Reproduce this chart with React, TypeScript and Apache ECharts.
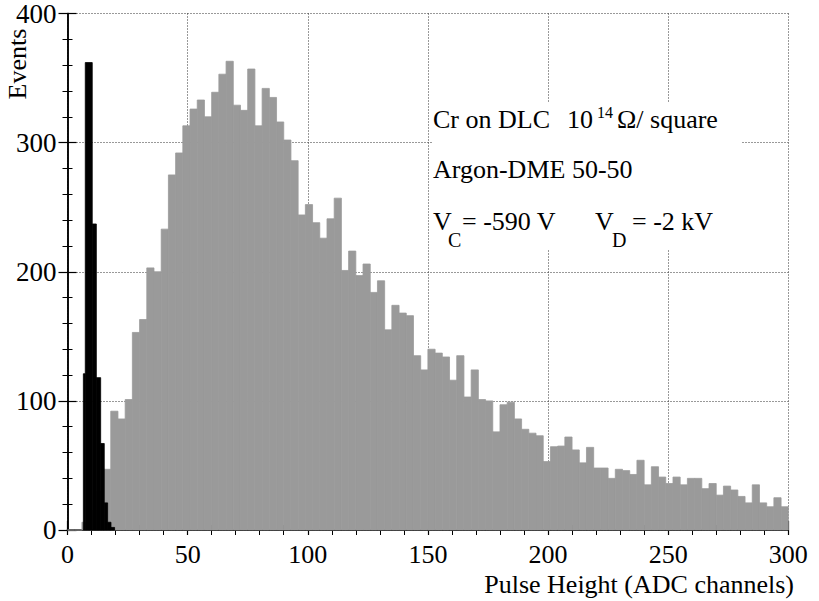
import React, { useEffect, useRef } from "react";
import * as echarts from "echarts";

// Gray histogram: 3-channel bins starting at 0 (100 bins, 0..300)
const GRAY_BIN_WIDTH = 3;
const grayCounts = [
  0, 0, 6, 15, 30, 47, 92, 86, 101,
  153, 163, 203, 200, 233, 275, 292, 313, 326, 333, 320, 339, 353, 363, 329, 325, 357, 313,
  342, 335, 316, 302, 286, 244, 252, 238, 226, 241, 257,
  201, 216, 197, 206, 184, 193,
  155, 174, 168, 166, 135, 124, 140, 137, 134, 116, 135, 103, 124,
  101, 100, 76, 97, 99, 86, 78, 75, 73, 53, 64.5, 65, 72, 62, 52, 64, 48,
  48, 40, 47, 46, 43, 54, 35, 49, 41, 36, 41, 35, 40, 40, 32, 36, 27, 34, 31, 26, 21, 35, 21, 18, 25, 18,
];

// Black histogram (pedestal / noise peak): bin edges and counts
const blackEdges = [6.6, 7.4, 10.3, 12.0, 13.8, 15.3, 16.7, 18.1, 19.6];
const blackCounts = [121, 362, 237, 118, 67, 21, 6, 2];

const xTicks = [0, 50, 100, 150, 200, 250, 300];
const yTicks = [0, 100, 200, 300, 400];

const FONT = '"Liberation Serif", "Times New Roman", serif';

export default function App() {
  const ref = useRef<HTMLDivElement>(null);
  useEffect(() => {
    if (!ref.current) return;
    const chart = echarts.init(ref.current, undefined, { renderer: "svg" });

    const grayData = grayCounts.map((v, i) => [i * GRAY_BIN_WIDTH, (i + 1) * GRAY_BIN_WIDTH, v]);
    const blackData = blackCounts.map((v, i) => [blackEdges[i], blackEdges[i + 1], v]);

    const rectItem = (fill: string) => (params: any, api: any) => {
      const p0 = api.coord([api.value(0), api.value(2)]);
      const p1 = api.coord([api.value(1), 0]);
      return {
        type: "rect",
        shape: { x: p0[0], y: p0[1], width: p1[0] - p0[0], height: p1[1] - p0[1] },
        style: { fill, stroke: fill, lineWidth: 0.8 },
      };
    };

    const axisLine = { show: true, lineStyle: { color: "#000", width: 1.5 } };
    const splitLine = { show: true, lineStyle: { color: "#333", width: 1, type: [1, 2] as any } };
    const tick = { show: true, inside: true, length: 9, lineStyle: { color: "#000", width: 1.2 } };
    const minor = { show: true, splitNumber: 5, length: 5, lineStyle: { color: "#000", width: 1 } };

    const xMin = xTicks[0], xMax = xTicks[xTicks.length - 1];
    const xInt = xTicks[1] - xTicks[0];
    const yMin = yTicks[0], yMax = yTicks[yTicks.length - 1];
    const yInt = yTicks[1] - yTicks[0];

    const textFont = `26px ${FONT}`;
    const t = (text: string, x: number, y: number, size = 26) => ({
      type: "text",
      x,
      y,
      z: 100,
      style: {
        text,
        font: `${size}px ${FONT}`,
        fill: "#000",
        align: "left",
        verticalAlign: "middle",
      },
    });

    chart.setOption({
      animation: false,
      backgroundColor: "#fff",
      grid: { left: 67.5, right: 30.7, top: 12.5, bottom: 71 },
      xAxis: [
        {
          type: "value",
          position: "bottom",
          min: xMin,
          max: xMax,
          interval: xInt,
          axisLine,
          axisTick: tick,
          minorTick: minor,
          splitLine,
          axisLabel: { color: "#000", fontFamily: FONT, fontSize: 26, margin: 11 },
        },
        {
          type: "value",
          position: "top",
          min: xMin,
          max: xMax,
          interval: xInt,
          axisLine,
          axisTick: { ...tick, length: 5 },
          minorTick: minor,
          splitLine: { show: false },
          axisLabel: { show: false },
        },
      ],
      yAxis: [
        {
          type: "value",
          position: "left",
          min: yMin,
          max: yMax,
          interval: yInt,
          axisLine,
          axisTick: tick,
          minorTick: minor,
          splitLine,
          axisLabel: { color: "#000", fontFamily: FONT, fontSize: 27, margin: 11 },
        },
        {
          type: "value",
          position: "right",
          min: yMin,
          max: yMax,
          interval: yInt,
          axisLine,
          axisTick: tick,
          minorTick: minor,
          splitLine: { show: false },
          axisLabel: { show: false },
        },
      ],
      series: [
        {
          type: "custom",
          name: "gray",
          xAxisIndex: 0,
          yAxisIndex: 0,
          data: grayData,
          encode: { x: [0, 1], y: 2 },
          renderItem: rectItem("#9a9a9a"),
          silent: true,
          z: 2,
        },
        {
          type: "custom",
          name: "black",
          xAxisIndex: 0,
          yAxisIndex: 0,
          data: blackData,
          encode: { x: [0, 1], y: 2 },
          renderItem: rectItem("#000"),
          silent: true,
          z: 3,
        },
      ],
      graphic: [
        {
          type: "rect",
          z: 90,
          shape: { x: 433, y: 103, width: 309, height: 147 },
          style: { fill: "#fff" },
        },
        t("Cr on DLC", 433, 119),
        t("10", 567, 119),
        t("14", 597, 112, 16),
        t("\u03A9/ square", 617, 119),
        t("Argon-DME 50-50", 433, 169),
        t("V", 433, 221),
        t("C", 448, 240, 20),
        t("= -590 V", 462, 221),
        t("V", 595, 221),
        t("D", 612, 240, 20),
        t("= -2 kV", 632, 221),
        {
          type: "text",
          x: 17,
          y: 64,
          rotation: Math.PI / 2,
          z: 100,
          style: { text: "Events", font: textFont, fill: "#000", align: "center", verticalAlign: "middle" },
        },
        {
          type: "text",
          x: 794,
          y: 584.5,
          z: 100,
          style: {
            text: "Pulse Height (ADC channels)",
            font: textFont,
            fill: "#000",
            align: "right",
            verticalAlign: "middle",
          },
        },
      ],
    });
    return () => chart.dispose();
  }, []);
  return (
    <div
      ref={ref}
      style={{ position: "fixed", left: 0, top: 0, width: 819, height: 601, background: "#fff" }}
    />
  );
}
